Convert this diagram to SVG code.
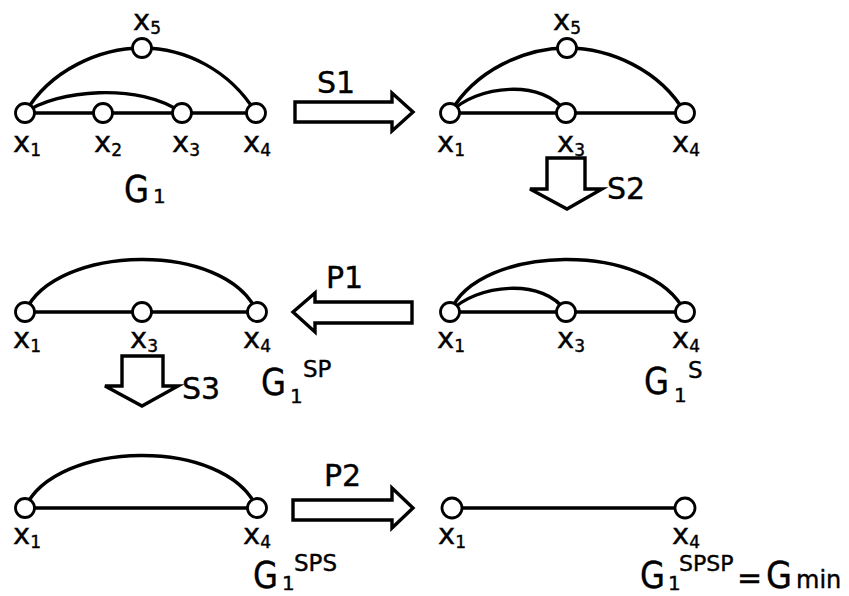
<svg xmlns="http://www.w3.org/2000/svg" width="849" height="596" viewBox="0 0 849 596">
<defs>
<style>
.edge{fill:none;stroke:#000;stroke-width:3.4;stroke-linecap:round}
.blk{fill:#fff;stroke:#000;stroke-width:3.4;stroke-linejoin:miter}
.nd{fill:#fff;stroke:#000;stroke-width:2.8}
text{font-family:"DejaVu Sans","Liberation Sans",sans-serif;fill:#000;stroke:#000;stroke-width:0.4}
.xl{font-size:29px}
.sb{font-size:17px}
.op{font-size:30px}
.g{font-size:38px}
.g1{font-size:20px}
.sup{font-size:23px}
</style>
</defs>
<rect width="849" height="596" fill="#fff"/>

<g id="connectors">
  <!-- G1 -->
  <path class="edge" d="M25,113 H256"/>
  <path class="edge" d="M25,113 C50,70 100,48 142,48 C185,48 230,70 256,113"/>
  <path class="edge" d="M25,113 C55,90 140,82 182,113"/>
  <!-- after S1 -->
  <path class="edge" d="M450,113 H685"/>
  <path class="edge" d="M450,113 C475,70 525,48 567,48 C610,48 660,70 685,113"/>
  <path class="edge" d="M450,113 C475,85 545,78 566,113"/>
  <!-- G1^S -->
  <path class="edge" d="M450,312 H685"/>
  <path class="edge" d="M450,312 C478,244 650,240 685,312"/>
  <path class="edge" d="M450,312 C475,284 545,277 566,312"/>
  <!-- G1^SP -->
  <path class="edge" d="M25,312 H257"/>
  <path class="edge" d="M25,312 C55,244 225,240 257,312"/>
  <!-- G1^SPS -->
  <path class="edge" d="M25,508 H257"/>
  <path class="edge" d="M25,508 C55,440 225,436 257,508"/>
  <!-- G1^SPSP -->
  <path class="edge" d="M452,508 H685"/>

  <!-- transformation arrows -->
  <g id="arrow-S1">
    <polygon class="blk" points="295,102 392,102 392,93 413,112 392,131 392,122 295,122"/>
    <text class="op" x="317" y="93">S1</text>
  </g>
  <g id="arrow-S2">
    <polygon class="blk" points="547,158 585,158 585,189 602,189 567,209 530,189 547,189"/>
    <text class="op" x="607" y="199">S2</text>
  </g>
  <g id="arrow-P1">
    <polygon class="blk" points="412,302 412,323 315,323 315,332 293,312 315,293 315,302"/>
    <text class="op" x="326" y="288">P1</text>
  </g>
  <g id="arrow-S3">
    <polygon class="blk" points="122,356 163,356 163,386 178,386 142,406 105,386 122,386"/>
    <text class="op" x="182" y="399">S3</text>
  </g>
  <g id="arrow-P2">
    <polygon class="blk" points="293,500 392,500 392,488 413,508 392,528 392,520 293,520"/>
    <text class="op" x="324" y="486">P2</text>
  </g>
</g>

<!-- Graph G1 -->
<g id="G1">
  <g id="G1-x1"><circle class="nd" cx="25" cy="113" r="9.5"/><text class="xl" x="13" y="152">x<tspan class="sb" dy="4">1</tspan></text></g>
  <g id="G1-x2"><circle class="nd" cx="103" cy="113" r="9.5"/><text class="xl" x="94" y="152">x<tspan class="sb" dy="4">2</tspan></text></g>
  <g id="G1-x3"><circle class="nd" cx="182" cy="113" r="9.5"/><text class="xl" x="172" y="152">x<tspan class="sb" dy="4">3</tspan></text></g>
  <g id="G1-x4"><circle class="nd" cx="256" cy="113" r="9.5"/><text class="xl" x="243" y="152">x<tspan class="sb" dy="4">4</tspan></text></g>
  <g id="G1-x5"><circle class="nd" cx="142" cy="48" r="9.5"/><text class="xl" x="133" y="30">x<tspan class="sb" dy="4">5</tspan></text></g>
  <g id="G1-label"><text class="g" x="124" y="202" textLength="25" lengthAdjust="spacingAndGlyphs">G</text><text class="g1" x="153" y="203">1</text></g>
</g>

<!-- Graph after S1 -->
<g id="G1-S1">
  <g id="S1-x1"><circle class="nd" cx="450" cy="113" r="9.5"/><text class="xl" x="437" y="152">x<tspan class="sb" dy="4">1</tspan></text></g>
  <g id="S1-x3"><circle class="nd" cx="566" cy="113" r="9.5"/><text class="xl" x="557" y="152">x<tspan class="sb" dy="4">3</tspan></text></g>
  <g id="S1-x4"><circle class="nd" cx="685" cy="113" r="9.5"/><text class="xl" x="672" y="152">x<tspan class="sb" dy="4">4</tspan></text></g>
  <g id="S1-x5"><circle class="nd" cx="567" cy="48" r="9.5"/><text class="xl" x="553" y="30">x<tspan class="sb" dy="4">5</tspan></text></g>
</g>

<!-- Graph G1^S -->
<g id="G1-S">
  <g id="S-x1"><circle class="nd" cx="450" cy="312" r="9.5"/><text class="xl" x="437" y="348">x<tspan class="sb" dy="4">1</tspan></text></g>
  <g id="S-x3"><circle class="nd" cx="566" cy="312" r="9.5"/><text class="xl" x="557" y="348">x<tspan class="sb" dy="4">3</tspan></text></g>
  <g id="S-x4"><circle class="nd" cx="685" cy="312" r="9.5"/><text class="xl" x="672" y="348">x<tspan class="sb" dy="4">4</tspan></text></g>
  <g id="S-label"><text class="g" x="644" y="394" textLength="25" lengthAdjust="spacingAndGlyphs">G</text><text class="g1" x="674" y="402">1</text><text class="sup" x="688" y="378">S</text></g>
</g>

<!-- Graph G1^SP -->
<g id="G1-SP">
  <g id="SP-x1"><circle class="nd" cx="25" cy="312" r="9.5"/><text class="xl" x="13" y="348">x<tspan class="sb" dy="4">1</tspan></text></g>
  <g id="SP-x3"><circle class="nd" cx="142" cy="312" r="9.5"/><text class="xl" x="130" y="348">x<tspan class="sb" dy="4">3</tspan></text></g>
  <g id="SP-x4"><circle class="nd" cx="257" cy="312" r="9.5"/><text class="xl" x="243" y="348">x<tspan class="sb" dy="4">4</tspan></text></g>
  <g id="SP-label"><text class="g" x="261" y="395" textLength="25" lengthAdjust="spacingAndGlyphs">G</text><text class="g1" x="290" y="403">1</text><text class="sup" x="303" y="377">SP</text></g>
</g>

<!-- Graph G1^SPS -->
<g id="G1-SPS">
  <g id="SPS-x1"><circle class="nd" cx="25" cy="508" r="9.5"/><text class="xl" x="13" y="544">x<tspan class="sb" dy="4">1</tspan></text></g>
  <g id="SPS-x4"><circle class="nd" cx="257" cy="508" r="9.5"/><text class="xl" x="243" y="544">x<tspan class="sb" dy="4">4</tspan></text></g>
  <g id="SPS-label"><text class="g" x="253" y="588" textLength="25" lengthAdjust="spacingAndGlyphs">G</text><text class="g1" x="282" y="590">1</text><text class="sup" x="294" y="571">SPS</text></g>
</g>

<!-- Graph G1^SPSP = Gmin -->
<g id="G1-SPSP">
  <g id="SPSP-x1"><circle class="nd" cx="452" cy="508" r="10"/><text class="xl" x="438" y="544">x<tspan class="sb" dy="4">1</tspan></text></g>
  <g id="SPSP-x4"><circle class="nd" cx="685" cy="508" r="10"/><text class="xl" x="672" y="544">x<tspan class="sb" dy="4">4</tspan></text></g>
  <g id="SPSP-label"><text class="g" x="640" y="588" textLength="25" lengthAdjust="spacingAndGlyphs">G</text><text class="g1" x="668" y="590">1</text><text class="sup" style="font-size:22px" x="679" y="571">SPSP</text><text class="op" x="737" y="588">=</text><text class="g" x="766" y="588" textLength="26" lengthAdjust="spacingAndGlyphs">G</text><text style="font-size:24px" x="796" y="588">min</text></g>
</g>
</svg>
